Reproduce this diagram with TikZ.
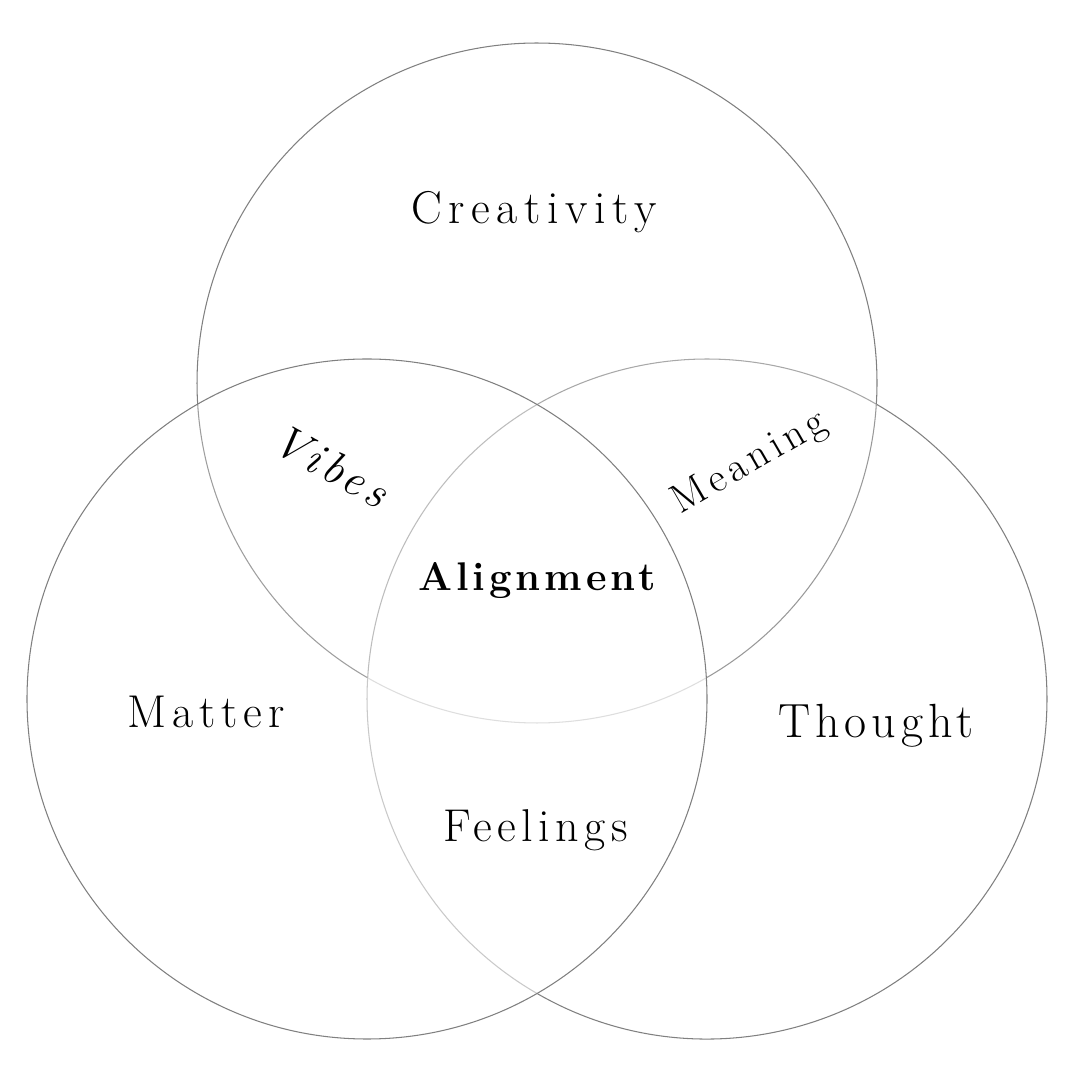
\documentclass[tikz,border=0pt]{standalone}
\usepackage{fontspec}
\setmainfont{Latin Modern Roman}
\begin{document}
\begin{tikzpicture}[x=1pt,y=1pt,
  ring/.style={line width=1.05pt},
  lbl/.style={text=black, inner sep=0pt},
]
\useasboundingbox[fill=white] (0,0) rectangle (1080,1080);
\coordinate (T) at (537,697);
\coordinate (L) at (367,381);
\coordinate (R) at (707,381);
% right circle
\draw[ring, draw=black!50] ([shift={(240:340)}]R) arc[start angle=240, end angle=420.11, radius=340];
\draw[ring, draw=black!34] ([shift={(60.11:340)}]R) arc[start angle=60.11, end angle=120, radius=340];
\draw[ring, draw=black!26] ([shift={(120:340)}]R) arc[start angle=120, end angle=176.43, radius=340];
\draw[ring, draw=black!21] ([shift={(176.43:340)}]R) arc[start angle=176.43, end angle=240, radius=340];
% top circle
\draw[ring, draw=black!50] ([shift={(-3.57:340)}]T) arc[start angle=-3.57, end angle=183.57, radius=340];
\draw[ring, draw=black!38] ([shift={(183.57:340)}]T) arc[start angle=183.57, end angle=240.11, radius=340];
\draw[ring, draw=black!13] ([shift={(240.11:340)}]T) arc[start angle=240.11, end angle=299.89, radius=340];
\draw[ring, draw=black!40] ([shift={(299.89:340)}]T) arc[start angle=299.89, end angle=356.43, radius=340];
% left circle
\draw[ring, draw=black!50] (L) circle[radius=340];
% labels
\node[lbl, anchor=base] (creativity) at (534,856) {\fontsize{46}{50}\selectfont\addfontfeatures{LetterSpace=14.5}Creativity};
\node[lbl, anchor=base] (matter) at (206,352) {\fontsize{46}{50}\selectfont\addfontfeatures{LetterSpace=13}Matter};
\node[lbl, anchor=base] (thought) at (876,342) {\fontsize{48}{52}\selectfont\addfontfeatures{LetterSpace=10.5}Thought};
\node[lbl, anchor=base] (feelings) at (536,238) {\fontsize{46}{50}\selectfont\addfontfeatures{LetterSpace=12}Feelings};
\node[lbl, anchor=base] (alignment) at (537,489) {\fontsize{40}{44}\selectfont\bfseries\addfontfeatures{LetterSpace=10}Alignment};
\node[lbl, rotate=-29] (vibes) at (331,614) {\fontsize{46}{50}\selectfont\itshape\addfontfeatures{LetterSpace=11}Vibes};
\node[lbl, rotate=30] (meaning) at (750,617) {\fontsize{41}{45}\selectfont\addfontfeatures{LetterSpace=12}Meaning};
\end{tikzpicture}
\end{document}
